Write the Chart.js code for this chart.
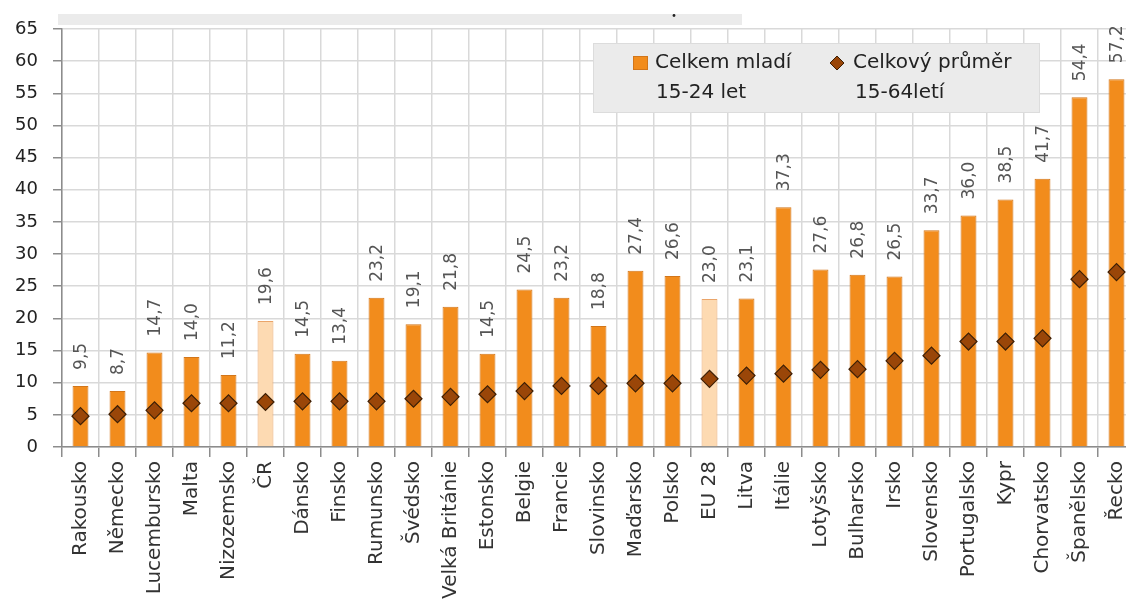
<!DOCTYPE html>
<html>
<head>
<meta charset="utf-8">
<script src="https://cdn.jsdelivr.net/npm/chart.js@4/dist/chart.umd.min.js"></script>
<style>
  html, body { margin: 0; padding: 0; background: #fff; overflow: hidden; }
  #wrap { width: 1150px; height: 640px; }
</style>
</head>
<body>
<div id="wrap"><canvas id="unemp-chart" width="1150" height="640"></canvas></div>
<script>
// Nezaměstnanost mladých (15-24 let) a celková (15-64 let), v %
var countries = ['Rakousko', 'Německo', 'Lucembursko', 'Malta', 'Nizozemsko', 'ČR', 'Dánsko', 'Finsko',
    'Rumunsko', 'Švédsko', 'Velká Británie', 'Estonsko', 'Belgie', 'Francie', 'Slovinsko', 'Maďarsko',
    'Polsko', 'EU 28', 'Litva', 'Itálie', 'Lotyšsko', 'Bulharsko', 'Irsko', 'Slovensko', 'Portugalsko',
    'Kypr', 'Chorvatsko', 'Španělsko', 'Řecko'];
var youthRate = [9.5, 8.7, 14.7, 14.0, 11.2, 19.6, 14.5, 13.4, 23.2, 19.1, 21.8, 14.5, 24.5, 23.2, 18.8,
    27.4, 26.6, 23.0, 23.1, 37.3, 27.6, 26.8, 26.5, 33.7, 36.0, 38.5, 41.7, 54.4, 57.2];
var totalRate = [4.8, 5.1, 5.7, 6.8, 6.8, 7.0, 7.1, 7.1, 7.1, 7.5, 7.8, 8.2, 8.7, 9.5, 9.5, 9.9, 9.9,
    10.6, 11.1, 11.4, 12.0, 12.1, 13.4, 14.2, 16.4, 16.4, 16.9, 26.1, 27.2];
var highlighted = ['ČR', 'EU 28'];
var yTicks = [0, 5, 10, 15, 20, 25, 30, 35, 40, 45, 50, 55, 60, 65];

var FONT = "'DejaVu Sans', sans-serif";
var ORANGE = '#f28c1c';
var ORANGE_EDGE = '#d2761a';
var LIGHT = '#fddab2';
var LIGHT_EDGE = '#eaa56a';
var BROWN = '#9a4608';
var BROWN_EDGE = '#3d1f06';

function fmt(v) {
    return v.toFixed(1).replace('.', ',');
}

// šedé pozadí nadpisu a legenda
var boxesPlugin = {
    id: 'boxes',
    beforeDraw: function(chart) {
        var ctx = chart.ctx;
        ctx.save();
        ctx.fillStyle = '#ebebeb';
        ctx.fillRect(58, 14, 684, 11);
        ctx.fillStyle = '#222';
        ctx.beginPath();
        ctx.arc(674, 15.5, 1.4, 0, Math.PI * 2);
        ctx.fill();
        ctx.restore();
    },
    afterDraw: function(chart) {
        var ctx = chart.ctx;
        ctx.save();
        ctx.fillStyle = '#ebebeb';
        ctx.fillRect(593, 43, 447, 70);
        ctx.strokeStyle = '#dcdcdc';
        ctx.lineWidth = 1;
        ctx.strokeRect(593.5, 43.5, 446, 69);

        // ctverecek pro sloupce
        ctx.fillStyle = ORANGE;
        ctx.fillRect(633, 56, 15, 14);
        ctx.strokeStyle = ORANGE_EDGE;
        ctx.strokeRect(633.5, 56.5, 14, 13);

        // kosoctverec pro prumer
        ctx.beginPath();
        ctx.moveTo(837, 56);
        ctx.lineTo(844, 63);
        ctx.lineTo(837, 70);
        ctx.lineTo(830, 63);
        ctx.closePath();
        ctx.fillStyle = BROWN;
        ctx.fill();
        ctx.strokeStyle = BROWN_EDGE;
        ctx.stroke();

        ctx.fillStyle = '#222';
        ctx.font = '20px ' + FONT;
        ctx.textBaseline = 'middle';
        ctx.textAlign = 'left';
        ctx.fillText('Celkem mladí', 655, 63);
        ctx.fillText('15-24 let', 656, 93);
        ctx.fillText('Celkový průměr', 853, 63);
        ctx.fillText('15-64letí', 855, 93);
        ctx.restore();
    }
};

// hodnoty nad sloupci, svisle
var valueLabels = {
    id: 'valueLabels',
    afterDatasetsDraw: function(chart) {
        var ctx = chart.ctx;
        var meta = chart.getDatasetMeta(1);
        ctx.save();
        ctx.fillStyle = '#555';
        ctx.font = '17px ' + FONT;
        ctx.textAlign = 'left';
        ctx.textBaseline = 'middle';
        meta.data.forEach(function(bar, i) {
            ctx.save();
            ctx.translate(bar.x + 1.5, bar.y - 16);
            ctx.rotate(-Math.PI / 2);
            ctx.fillText(fmt(youthRate[i]), 0, 0);
            ctx.restore();
        });
        ctx.restore();
    }
};

var barColors = countries.map(function(c) { return highlighted.indexOf(c) >= 0 ? LIGHT : ORANGE; });
var barEdges = countries.map(function(c) { return highlighted.indexOf(c) >= 0 ? LIGHT_EDGE : ORANGE_EDGE; });

var ctx = document.getElementById('unemp-chart');
var chart = new Chart(ctx, {
    type: 'bar',
    data: {
        labels: countries,
        datasets: [{
            type: 'line',
            label: 'Celkový průměr 15-64letí',
            data: totalRate,
            showLine: false,
            pointStyle: 'rectRot',
            pointRadius: 8.5,
            pointBackgroundColor: BROWN,
            pointBorderColor: BROWN_EDGE,
            pointBorderWidth: 1.2,
            order: 0
        }, {
            label: 'Celkem mladí 15-24 let',
            data: youthRate,
            backgroundColor: barColors,
            borderColor: barEdges,
            borderWidth: 1,
            barPercentage: 0.43,
            categoryPercentage: 1,
            order: 1
        }]
    },
    options: {
        responsive: false,
        animation: false,
        layout: { padding: { top: 29, right: 15, left: 0, bottom: 0 } },
        plugins: {
            legend: { display: false },
            tooltip: { enabled: false }
        },
        scales: {
            x: {
                grid: { color: '#d9d9d9', lineWidth: 1.5, tickLength: 10, tickColor: '#8c8c8c', offset: true },
                border: { color: '#8c8c8c', width: 1.5 },
                ticks: {
                    color: '#333',
                    font: { family: FONT, size: 20 },
                    minRotation: 90,
                    maxRotation: 90,
                    autoSkip: false,
                    padding: 4
                },
                afterFit: function(scale) { scale.height = 193; }
            },
            y: {
                min: 0,
                max: 65,
                afterBuildTicks: function(scale) {
                    scale.ticks = yTicks.map(function(v) { return { value: v }; });
                },
                grid: { color: '#d9d9d9', lineWidth: 1.5, tickLength: 9, tickColor: '#8c8c8c' },
                border: { color: '#8c8c8c', width: 1.5 },
                ticks: {
                    color: '#222',
                    font: { family: FONT, size: 18 },
                    padding: 15
                },
                afterFit: function(scale) { scale.width = 62; }
            }
        }
    },
    plugins: [boxesPlugin, valueLabels]
});
</script>
</body>
</html>
